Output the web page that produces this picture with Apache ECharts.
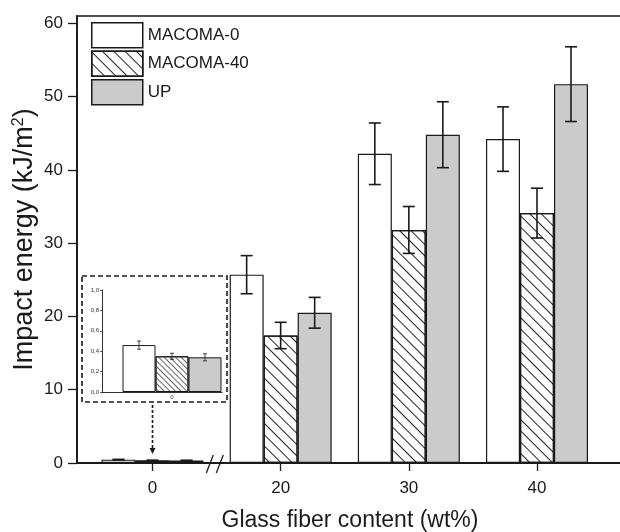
<!DOCTYPE html>
<html>
<head>
<meta charset="utf-8">
<script src="https://cdn.jsdelivr.net/npm/echarts@6/dist/echarts.min.js"></script>
<style>
  html, body { margin: 0; padding: 0; background: #fff; }
  #chart { width: 620px; height: 532px; }
</style>
</head>
<body>
<div id="chart"></div>
<script>
// glass fiber content groups (x positions are the indexes 0..3)
var categories = ['0', '20', '30', '40'];
var seriesNames = ['MACOMA-0', 'MACOMA-40', 'UP'];

var macoma0 = [0.46, 25.7, 42.2, 44.2];
var macoma0Err = [0.04, 2.6, 4.2, 4.4];
var macoma40 = [0.35, 17.4, 31.8, 34.1];
var macoma40Err = [0.03, 1.8, 3.2, 3.4];
var up = [0.34, 20.5, 44.8, 51.7];
var upErr = [0.035, 2.1, 4.5, 5.1];

var yTicks = [0, 10, 20, 30, 40, 50, 60];
var yMinorTicks = [5, 15, 25, 35, 45, 55];
var insetTicks = [0, 0.2, 0.4, 0.6, 0.8, 1.0];

var values = [macoma0, macoma40, up];
var errors = [macoma0Err, macoma40Err, upErr];

var FONT = 'Liberation Sans, Arial, sans-serif';
var INK = '#1a1a1a';
var BAR_W = 34;      // main bars
var INSET_BAR_W = 33;

var hatch = {
  symbol: 'rect',
  symbolSize: 1,
  color: '#222',
  dashArrayX: [1, 0],
  dashArrayY: [0.9, 6.3],
  rotation: Math.PI / 4
};
var hatchSmall = {
  symbol: 'rect',
  symbolSize: 1,
  color: '#666',
  dashArrayX: [1, 0],
  dashArrayY: [0.7, 2.6],
  rotation: Math.PI / 4
};
var fills = ['#ffffff', '#ffffff', '#cbcbcb'];

function barSeries(k, inset) {
  var data = [];
  var n = inset ? 1 : categories.length;
  for (var i = 0; i < n; i++) data.push([i, values[k][i]]);
  var style = { color: fills[k], borderColor: INK, borderWidth: inset ? 1 : 1.2 };
  if (k === 1) style.decal = inset ? hatchSmall : hatch;
  return {
    name: seriesNames[k],
    type: 'bar',
    xAxisIndex: inset ? 1 : 0,
    yAxisIndex: inset ? 2 : 0,
    barWidth: inset ? INSET_BAR_W : BAR_W,
    barGap: '0%',
    itemStyle: style,
    emphasis: { disabled: true },
    data: data
  };
}

function errorSeries(k, inset) {
  var data = [];
  var n = inset ? 1 : categories.length;
  for (var i = 0; i < n; i++) {
    data.push([i, values[k][i] - errors[k][i], values[k][i] + errors[k][i]]);
  }
  var bw = inset ? INSET_BAR_W : BAR_W;
  var cap = inset ? 2 : 6;
  return {
    type: 'custom',
    xAxisIndex: inset ? 1 : 0,
    yAxisIndex: inset ? 2 : 0,
    z: 5,
    silent: true,
    data: data,
    renderItem: function (params, api) {
      var top = api.coord([api.value(0), api.value(2)]);
      var bot = api.coord([api.value(0), api.value(1)]);
      var x = top[0] + (k - 1) * bw;
      var st = { stroke: INK, lineWidth: inset ? 0.8 : 1.6 };
      return {
        type: 'group',
        children: [
          { type: 'line', shape: { x1: x, y1: top[1], x2: x, y2: bot[1] }, style: st },
          { type: 'line', shape: { x1: x - cap, y1: top[1], x2: x + cap, y2: top[1] }, style: st },
          { type: 'line', shape: { x1: x - cap, y1: bot[1], x2: x + cap, y2: bot[1] }, style: st }
        ]
      };
    }
  };
}

var series = [];
for (var k = 0; k < 3; k++) series.push(barSeries(k, false));
for (var k2 = 0; k2 < 3; k2++) series.push(errorSeries(k2, false));
for (var k3 = 0; k3 < 3; k3++) series.push(barSeries(k3, true));
for (var k4 = 0; k4 < 3; k4++) series.push(errorSeries(k4, true));

var chart = echarts.init(document.getElementById('chart'));
var option = {
  animation: false,
  backgroundColor: '#fff',
  textStyle: { fontFamily: FONT, color: INK },
  legend: {
    data: seriesNames,
    orient: 'vertical',
    left: 91,
    top: 22,
    padding: 0,
    itemWidth: 51,
    itemHeight: 25,
    itemGap: 2,
    icon: 'rect',
    selectedMode: false,
    itemStyle: { borderColor: INK, borderWidth: 1.5 },
    textStyle: { fontSize: 17, color: INK, fontFamily: FONT }
  },
  grid: [
    { left: 77, top: 16, right: -3, bottom: 69, outerBoundsMode: 'none', show: true, borderColor: INK, borderWidth: 1.5, backgroundColor: 'transparent' },
    { left: 102, top: 290, width: 120, height: 102, outerBoundsMode: 'none' }
  ],
  xAxis: [
    {
      type: 'value',
      gridIndex: 0,
      min: -0.589,
      max: 3.671,
      splitLine: { show: false },
      axisLine: { onZero: false, lineStyle: { color: INK, width: 1.8 } },
      axisTick: { customValues: [0, 1, 2, 3], length: 8, lineStyle: { color: INK, width: 1.3 } },
      axisLabel: {
        customValues: [0, 1, 2, 3],
        margin: 17,
        fontSize: 17,
        color: INK,
        formatter: function (v) { return categories[Math.round(v)]; }
      },
      name: 'Glass fiber content (wt%)',
      nameLocation: 'middle',
      nameGap: 46,
      nameMoveOverlap: false,
      nameTextStyle: { fontSize: 23, color: INK }
    },
    {
      type: 'value',
      gridIndex: 1,
      min: -0.7,
      max: 0.5,
      splitLine: { show: false },
      axisLine: { onZero: false, lineStyle: { color: '#333', width: 1 } },
      axisTick: { show: false },
      axisLabel: {
        customValues: [0],
        margin: 2,
        fontSize: 6,
        color: '#333',
        formatter: function (v) { return categories[Math.round(v)]; }
      }
    }
  ],
  yAxis: [
    {
      type: 'value',
      gridIndex: 0,
      min: 0,
      max: 61,
      splitLine: { show: false },
      axisLine: { show: true, onZero: false, lineStyle: { color: INK, width: 1.8 } },
      axisTick: { customValues: yTicks, length: 9, lineStyle: { color: INK, width: 1.3 } },
      axisLabel: { customValues: yTicks, margin: 14, fontSize: 17, color: INK },
      name: 'Impact energy (kJ/m{s|2})',
      nameLocation: 'middle',
      nameGap: 39,
      nameMoveOverlap: false,
      nameTextStyle: {
        fontSize: 27,
        color: INK,
        rich: { s: { fontSize: 16, verticalAlign: 'top', color: INK } }
      }
    },
    {
      type: 'value',
      gridIndex: 0,
      min: 0,
      max: 61,
      splitLine: { show: false },
      axisLine: { show: false, onZero: false },
      axisTick: { customValues: yMinorTicks, length: 5, lineStyle: { color: INK, width: 1.3 } },
      axisLabel: { show: false }
    },
    {
      type: 'value',
      gridIndex: 1,
      min: 0,
      max: 1,
      splitLine: { show: false },
      axisLine: { show: true, onZero: false, lineStyle: { color: '#333', width: 1 } },
      axisTick: { customValues: insetTicks, length: 2, lineStyle: { color: '#333', width: 0.8 } },
      axisLabel: {
        customValues: insetTicks,
        margin: 3,
        fontSize: 6,
        color: '#333',
        formatter: function (v) { return v.toFixed(1).replace('.', ','); }
      }
    }
  ],
  series: series
};
chart.setOption(option);

// decorations placed from axis pixel positions: inset frame, arrow, axis break
var zeroPx = chart.convertToPixel({ xAxisIndex: 0 }, 0);
var basePx = chart.convertToPixel({ yAxisIndex: 0 }, 0);
var breakPx = chart.convertToPixel({ xAxisIndex: 0 }, 0.49);
var inL = chart.convertToPixel({ xAxisIndex: 1 }, -0.7);
var inR = chart.convertToPixel({ xAxisIndex: 1 }, 0.5);
var inT = chart.convertToPixel({ yAxisIndex: 2 }, 1);
var inB = chart.convertToPixel({ yAxisIndex: 2 }, 0);

var dash = { stroke: INK, lineWidth: 1.6, lineDash: [5, 3], fill: null };
chart.setOption({
  graphic: [
    { type: 'rect', shape: { x: inL - 20, y: inT - 14, width: inR - inL + 25, height: inB - inT + 24 }, style: dash, z: 10 },
    { type: 'line', shape: { x1: zeroPx, y1: inB + 13, x2: zeroPx, y2: basePx - 14 }, style: { stroke: INK, lineWidth: 1.6, lineDash: [3, 2] }, z: 10 },
    { type: 'polygon', shape: { points: [[zeroPx - 3, basePx - 15], [zeroPx + 3, basePx - 15], [zeroPx, basePx - 9]] }, style: { fill: INK }, z: 10 },
    { type: 'line', shape: { x1: breakPx - 9, y1: basePx + 10, x2: breakPx - 2, y2: basePx - 8 }, style: { stroke: INK, lineWidth: 1.3 }, z: 10 },
    { type: 'line', shape: { x1: breakPx + 1, y1: basePx + 10, x2: breakPx + 8, y2: basePx - 8 }, style: { stroke: INK, lineWidth: 1.3 }, z: 10 }
  ]
});
</script>
</body>
</html>
